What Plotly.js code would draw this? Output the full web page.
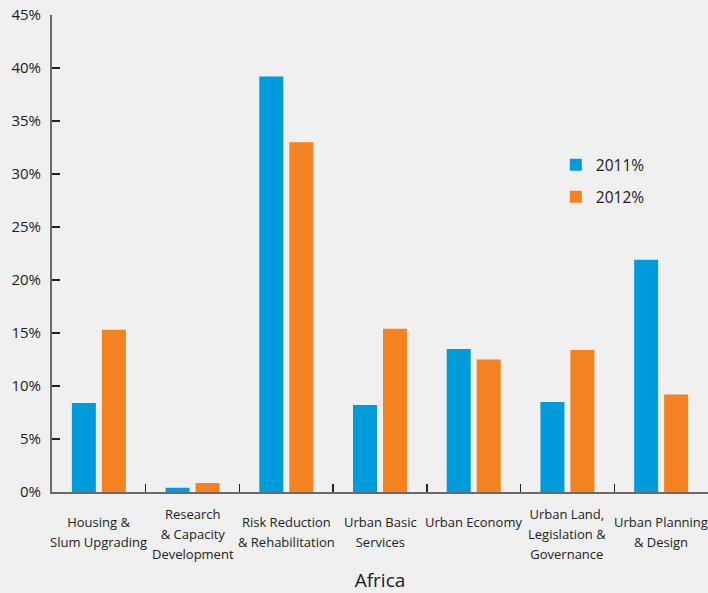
<!DOCTYPE html>
<html>
<head>
<meta charset="utf-8">
<script src="https://cdn.plot.ly/plotly-3.0.1.min.js"></script>
<style>
  html, body { margin: 0; padding: 0; background: #f0f0f0; }
  #chart { width: 708px; height: 593px; }
</style>
</head>
<body>
<div id="chart"></div>
<script>
const categories = [
  "Housing &<br>Slum Upgrading",
  "Research<br>& Capacity<br>Development",
  "Risk Reduction<br>& Rehabilitation",
  "Urban Basic<br>Services",
  "Urban Economy",
  "Urban Land,<br>Legislation &<br>Governance",
  "Urban Planning<br>& Design"
];
const values2011 = [8.4, 0.4, 39.2, 8.2, 13.5, 8.5, 21.9];
const values2012 = [15.3, 0.85, 33.0, 15.4, 12.5, 13.4, 9.2];
const seriesNames = ["2011%", "2012%"];
const yTickVals = [0, 5, 10, 15, 20, 25, 30, 35, 40, 45];
const yTickText = ["0%", "5%", "10%", "15%", "20%", "25%", "30%", "35%", "40%", "45%"];
const axisTitle = "Africa";

const FONT = "'Open Sans', 'Noto Sans', sans-serif";
const BLUE = "#009bdb";
const ORANGE = "#f58220";

const traces = [
  { type: "bar", x: categories, y: values2011, name: seriesNames[0], legendgroup: "a",
    marker: { color: BLUE }, hoverinfo: "skip" },
  { type: "bar", x: categories, y: values2012, name: seriesNames[1], legendgroup: "b",
    marker: { color: ORANGE }, hoverinfo: "skip" }
];

const annotations = categories.map(c => {
  const parts = c.split("<br>");
  const text = parts.map(p => '<span style="font-size:13px">' + p + '</span>').join("<br>");
  return {
    x: c, xref: "x", y: 0, yref: "paper",
    yanchor: "top", xanchor: "center",
    yshift: parts.length >= 3 ? -11 : -19,
    text: text, showarrow: false, align: "center",
    font: { family: FONT, size: 15.4, color: "#222" }
  };
});

const layout = {
  width: 708, height: 593,
  margin: { l: 52, r: 0, t: 15, b: 101 },
  paper_bgcolor: "#f0f0f0",
  plot_bgcolor: "#f0f0f0",
  barmode: "group",
  bargap: 0.36,
  bargroupgap: 0.2,
  showlegend: true,
  legend: {
    x: 0.768, y: 0.721, xanchor: "left", yanchor: "top",
    bgcolor: "rgba(0,0,0,0)",
    font: { family: FONT, size: 15.5, color: "#222" },
    tracegroupgap: 9
  },
  xaxis: {
    type: "category",
    range: [-0.5, 6.5],
    showgrid: false, zeroline: false,
    showline: true, linecolor: "#6a6a6a", linewidth: 2,
    ticks: "inside", tickson: "boundaries", ticklen: 8, tickwidth: 1.5, tickcolor: "#222",
    showticklabels: false,
    title: { text: axisTitle, font: { family: FONT, size: 19, color: "#1a1a1a" }, standoff: 87 },
    automargin: false,
    fixedrange: true
  },
  yaxis: {
    range: [0, 45],
    tickvals: yTickVals, ticktext: yTickText,
    showgrid: false, zeroline: false,
    showline: true, linecolor: "#6a6a6a", linewidth: 2,
    ticks: "inside", ticklen: 8, tickwidth: 1.5, tickcolor: "#222",
    ticklabelstandoff: 6,
    tickfont: { family: FONT, size: 15, color: "#222" },
    automargin: false,
    fixedrange: true
  },
  annotations: annotations
};

Plotly.newPlot("chart", traces, layout, { staticPlot: true, displayModeBar: false });
</script>
</body>
</html>
